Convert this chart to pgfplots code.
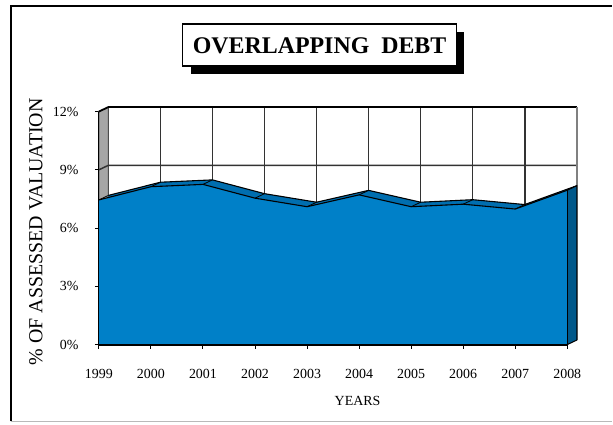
\documentclass[border=0pt]{standalone}
\usepackage{fontspec}
\setmainfont{Liberation Serif}
\usepackage{pgfplots}
\pgfplotsset{compat=1.18}
\usepackage{pgfplotstable}

\definecolor{frontblue}{RGB}{0,128,200}
\definecolor{topblue}{RGB}{0,110,175}
\definecolor{endblue}{RGB}{0,88,138}
\definecolor{sidegray}{RGB}{166,166,166}

% overlapping debt, % of assessed valuation
\pgfplotstableread{
year debt
1999 7.45
2000 8.13
2001 8.25
2002 7.54
2003 7.10
2004 7.71
2005 7.10
2006 7.23
2007 6.98
2008 7.95
}\debt

% depth of the 3-D effect, in axis units
\def\dx{0.1823}
\def\dy{0.2315}

\pgfplotstablegetelem{9}{debt}\of\debt
\let\lastval\pgfplotsretval
\pgfmathsetmacro\lastback{\lastval+\dy}

\begin{document}
\begin{tikzpicture}[x=1bp,y=1bp]
\path (0,0) rectangle (613,425);
% frame
\draw[gray!55, line width=1.5] (11,3) -- (613,3);
\draw[black, line width=1.5] (11,3) -- (11,419) -- (613,419);

% title box
\fill[black] (191,351) rectangle (465,393);
\draw[black, fill=white, line width=1.2] (183,359) rectangle (457,401);
\node[font=\fontsize{24}{26}\selectfont\bfseries] at (320,379) {OVERLAPPING\ \ DEBT};

\node[rotate=90, font=\fontsize{20}{22}\selectfont] at (36,193) {\% OF ASSESSED VALUATION};
\node[font=\fontsize{14}{16}\selectfont] at (358,24) {YEARS};

\begin{axis}[
    at={(99bp,80bp)}, anchor=south west,
    scale only axis,
    width=469bp, height=233.3bp,
    xmin=1999, xmax=2008,
    ymin=0, ymax=12,
    clip=false,
    axis line style={draw=none},
    tick pos=left, tick align=outside,
    major tick length=4bp,
    tick style={black, line width=1},
    xtick={1999,...,2008},
    ytick={0,3,...,12},
    xticklabel shift=17bp,
    yticklabel shift=13bp,
    yticklabel={\pgfmathprintnumber{\tick}\%},
    tick label style={font=\fontsize{14}{16}\selectfont},
    x tick label style={/pgf/number format/1000 sep={}},
    /pgf/number format/assume math mode=true,
]
% back wall
\fill[white] (axis cs:1999.1823,0.2315) rectangle (axis cs:2008.1823,12.2315);
% left side wall
\filldraw[fill=sidegray, draw=black!70, line width=0.8]
    (axis cs:1999,0) -- (axis cs:1999,12) -- (axis cs:1999.1823,12.2315)
    -- (axis cs:1999.1823,0.2315) -- cycle;
% grid on the back wall
\pgfplotsinvokeforeach{2000,...,2007}{
    \draw[black!80, line width=1.5] (axis cs:#1.1823,0.2315) -- (axis cs:#1.1823,12.2315);
}
\pgfplotsinvokeforeach{3,6,9}{
    \draw[black!80, line width=1.5] (axis cs:1999,#1) -- (axis cs:1999.1823,#1.2315)
        -- (axis cs:2008.1823,#1.2315);
}
\draw[black, line width=1.8] (axis cs:1999,12) -- (axis cs:1999.1823,12.2315)
    -- (axis cs:2008.1823,12.2315);
\draw[gray, line width=2.4] (axis cs:2008.1823,0.2315) -- (axis cs:2008.1823,12.2315);

% top surface: the area moved back by the depth
\addplot[fill=topblue, draw=none]
    table[x expr=\thisrow{year}+\dx, y expr=\thisrow{debt}+\dy] {\debt}
    -- (axis cs:2008.1823,0.2315) -- (axis cs:1999.1823,0.2315) -- cycle;
\addplot[black, line width=1.1]
    table[x expr=\thisrow{year}+\dx, y expr=\thisrow{debt}+\dy] {\debt};
% creases
\addplot[black, line width=0.8, no markers, quiver={u=\dx, v=\dy}]
    table[x=year, y=debt] {\debt};
% end face
\addplot[fill=endblue, draw=black, line width=1]
    coordinates {(2008,0) (2008,\lastval) (2008.1823,\lastback) (2008.1823,0.2315)} -- cycle;
% front face
\addplot[fill=frontblue, draw=none] table[x=year, y=debt] {\debt} \closedcycle;
\addplot[black, line width=1.1] table[x=year, y=debt] {\debt};
\draw[black, line width=1] (axis cs:2008,0) -- (axis cs:2008,\lastval);
% axis lines
\draw[black, line width=1] (axis cs:1999,0) -- (axis cs:1999,12);
\draw[black, line width=2] (axis cs:1999,0) -- (axis cs:2008,0);
\end{axis}
\end{tikzpicture}
\end{document}
